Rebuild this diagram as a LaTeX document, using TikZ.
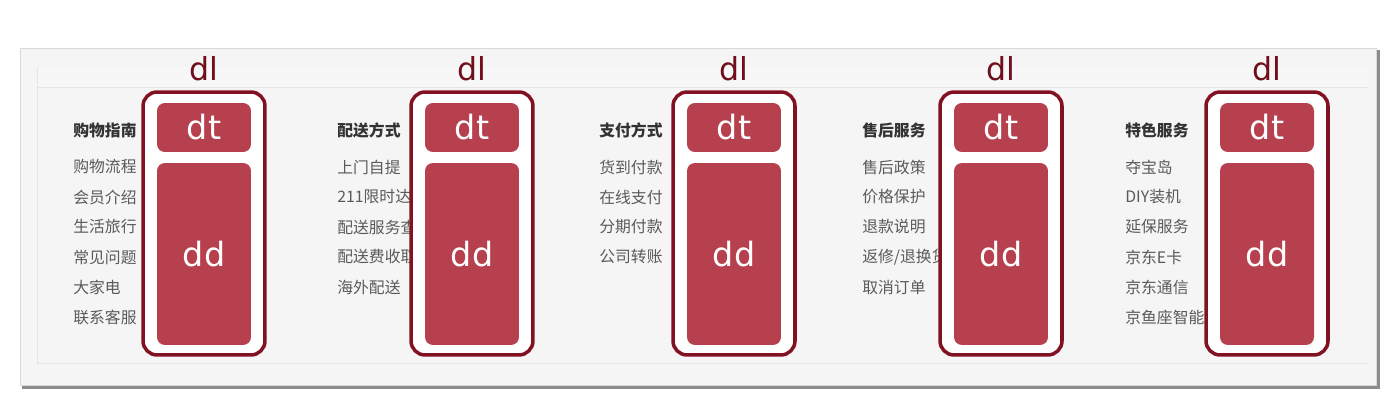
\documentclass[tikz,border=0pt]{standalone}
\usepackage{fontspec}
\setmainfont{DejaVu Sans}
\newfontfamily\cjk{Noto Sans CJK SC}
\usetikzlibrary{positioning}
\definecolor{dlborder}{RGB}{130, 18, 34}
\definecolor{dlfill}{RGB}{183, 64, 78}
\definecolor{dltext}{RGB}{112, 14, 28}
\definecolor{panel}{RGB}{245, 245, 245}
\definecolor{itemgray}{RGB}{90, 90, 90}

\begin{document}
\begin{tikzpicture}[
    x=0.02cm, y=-0.02cm,
    dlbox/.style={rectangle, rounded corners=8pt, draw=dlborder, line width=2pt, fill=white, minimum width=2.44cm, minimum height=5.26cm, inner sep=0pt},
    part/.style={rectangle, rounded corners=4.5pt, fill=dlfill, text=white, minimum width=1.88cm, minimum height=#1, inner sep=0pt, font=\fontsize{19}{22}\selectfont},
    tag/.style={text=dltext, font=\fontsize{18}{21}\selectfont, inner sep=0pt},
    head/.style={anchor=west, inner sep=0pt, text=black!80, font=\fontsize{9}{11}\selectfont\cjk\bfseries},
    item/.style={anchor=west, inner sep=0pt, text=itemgray, font=\fontsize{9}{11}\selectfont\cjk}
  ]
  \useasboundingbox (0,0) rectangle (1384,405);

  % Panel
  \fill[black!45] (22,50) rectangle (1380,389);
  \filldraw[fill=panel, draw=black!15] (20,48) rectangle (1376,385);
  \fill[white!97!black] (37,67) rectangle (1368,87);
  \draw[black!10] (37,87) -- (1368,87);
  \draw[black!10] (37,67) -- (37,363) -- (1368,363);

  % Column 1
  \node[head] (head1) at (73,130) {购物指南};
  \node[item] (i11) at (73,167) {购物流程};
  \node[item] (i12) at (73,197) {会员介绍};
  \node[item] (i13) at (73,227) {生活旅行};
  \node[item] (i14) at (73,257) {常见问题};
  \node[item] (i15) at (73,287) {大家电};
  \node[item] (i16) at (73,317) {联系客服};

  % Column 2
  \node[head] (head2) at (337,130) {配送方式};
  \node[item] (i21) at (337,167) {上门自提};
  \node[item] (i22) at (337,197) {211限时达};
  \node[item] (i23) at (337,227) {配送服务查询};
  \node[item] (i24) at (337,257) {配送费收取标准};
  \node[item] (i25) at (337,287) {海外配送};

  % Column 3
  \node[head] (head3) at (599,130) {支付方式};
  \node[item] (i31) at (599,167) {货到付款};
  \node[item] (i32) at (599,197) {在线支付};
  \node[item] (i33) at (599,227) {分期付款};
  \node[item] (i34) at (599,257) {公司转账};

  % Column 4
  \node[head] (head4) at (862,130) {售后服务};
  \node[item] (i41) at (862,167) {售后政策};
  \node[item] (i42) at (862,197) {价格保护};
  \node[item] (i43) at (862,227) {退款说明};
  \node[item] (i44) at (862,257) {返修/退换货};
  \node[item] (i45) at (862,287) {取消订单};

  % Column 5
  \node[head] (head5) at (1125,130) {特色服务};
  \node[item] (i51) at (1125,167) {夺宝岛};
  \node[item] (i52) at (1125,197) {DIY装机};
  \node[item] (i53) at (1125,227) {延保服务};
  \node[item] (i54) at (1125,257) {京东E卡};
  \node[item] (i55) at (1125,287) {京东通信};
  \node[item] (i56) at (1125,317) {京鱼座智能};

  % dl / dt / dd boxes
  \foreach \i/\cx in {1/204, 2/472, 3/734, 4/1001, 5/1267} {
    \node[dlbox] (dl\i) at (\cx,223.5) {};
    \node[part=0.98cm] (dt\i) at (\cx,127.5) {dt};
    \node[part=3.64cm] (dd\i) at (\cx,254) {dd};
    \node[tag] (tag\i) at (\cx,69) {dl};
  }

\end{tikzpicture}
\end{document}
